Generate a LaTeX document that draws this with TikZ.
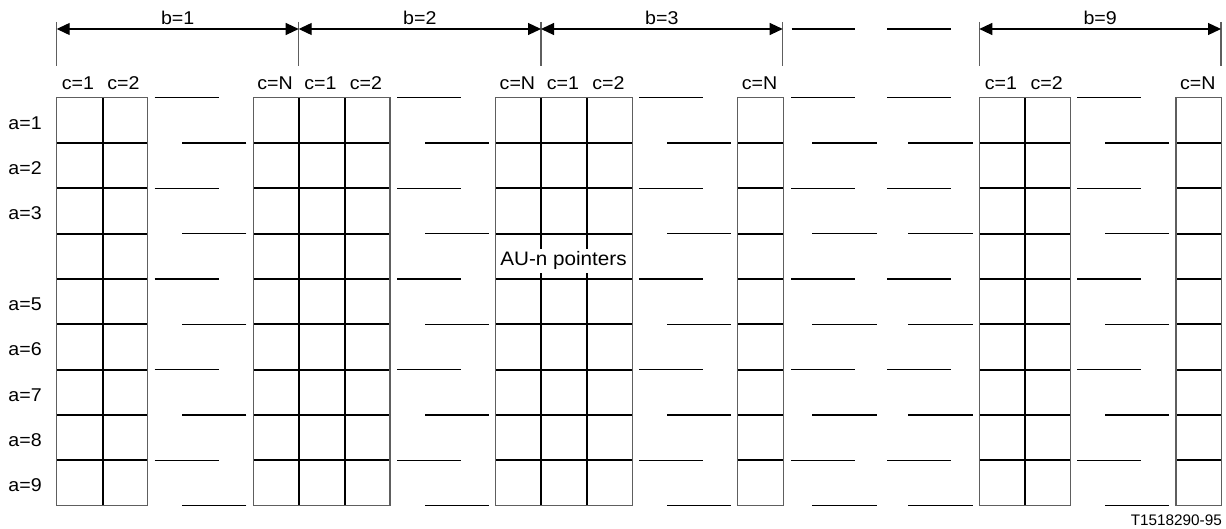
\documentclass[tikz,border=0pt]{standalone}
\usepackage{fontspec}
\setmainfont{Liberation Sans}[FakeStretch=1.06]
\newfontfamily\plainsans{Liberation Sans}
\usetikzlibrary{arrows.meta}
\definecolor{rim}{HTML}{5E5E5E}
\tikzset{cell/.style={draw=black,line width=2.1pt},frame/.style={draw=rim,line width=1.4pt},gap/.style={draw=black,line width=1.1pt},tick/.style={draw=rim,line width=1.4pt},span/.style={draw=black,line width=1.2pt,{Triangle[length=13pt,width=12pt]}-{Triangle[length=13pt,width=12pt]}},lbl/.style={inner sep=0pt,font=\fontsize{18.5}{21}\selectfont}}
\def\rh{45.33}
\def\ytop{97.7}
\def\ybot{505.7}

\begin{document}
\begin{tikzpicture}[x=1pt,y=-1pt]
\useasboundingbox (0,0) rectangle (1226,529);
% grid blocks: left/right edges
\foreach \l/\r in {56.7/147.7,253.3/390,495.7/632.3,737.7/783.3,979.3/1070.3,1176/1221.7}
  \foreach \k in {1,...,8}\draw[cell] (\l,\ytop+\k*\rh)--(\r,\ytop+\k*\rh);
\foreach \x in {102.7,298.7,344.7,541,586.7,1025}\draw[cell] (\x,\ytop)--(\x,\ybot);
\foreach \l/\r in {56.7/147.7,253.3/390,495.7/632.3,737.7/783.3,979.3/1070.3,1176/1221.7}
  \draw[frame] (\l,\ytop) rectangle (\r,\ybot);
% broken lines between blocks
\foreach \e/\s in {147.7/253.3,390/495.7,632.3/737.7,1070.3/1176}{
  \foreach \k in {0,2,...,8}\draw[gap] (\e+7,\ytop+\k*\rh)--++(64,0);
  \foreach \k in {1,3,...,9}\draw[gap] (\s-7,\ytop+\k*\rh)--++(-64,0);}
\foreach \k in {0,2,...,8}{\draw[gap] (791,\ytop+\k*\rh)--++(64,0);\draw[gap] (887,\ytop+\k*\rh)--++(64,0);}
\foreach \k in {1,3,...,9}{\draw[gap] (812.3,\ytop+\k*\rh)--++(64.4,0);\draw[gap] (908.3,\ytop+\k*\rh)--++(64.4,0);}
\draw[gap] (791.7,29)--(855,29);
\draw[gap] (887.3,29)--(950.7,29);
% dimension marks
\foreach \i/\x in {0/56.7,1/298.7,2/541,3/782.7,4/979.3,5/1221}{
  \coordinate (k\i) at (\x,29);
  \draw[tick] (\x,22)--(\x,66);}
\draw[span] (k0)--node[lbl,yshift=10.7pt] (b1) {b=1} (k1);
\draw[span] (k1)--node[lbl,yshift=10.7pt] (b2) {b=2} (k2);
\draw[span] (k2)--node[lbl,yshift=10.7pt] (b3) {b=3} (k3);
\draw[span] (k4)--node[lbl,yshift=10.7pt] (b9) {b=9} (k5);
% labels
\foreach \x/\t [count=\i] in {78/c=1,123.5/c=2,275/c=N,320.5/c=1,366/c=2,517.4/c=N,562.9/c=1,608.4/c=2,759.5/c=N,1001/c=1,1046.6/c=2,1197.8/c=N}
  \node[lbl] (c\i) at (\x,83) {\t};
\foreach \k in {1,2,3,5,6,7,8,9}
  \node[lbl,anchor=west] (a\k) at (8.3,\ytop+\k*\rh-0.5*\rh+2.5) {a=\k};
\node[lbl,anchor=base,fill=white,inner xsep=1pt,inner ysep=3pt,font=\fontsize{19.5}{22}\selectfont] (au) at (563.5,265.7) {AU-n pointers};
\node[lbl,anchor=base east,font=\plainsans\fontsize{15.3}{18}\selectfont] (ref) at (1222,525) {T1518290-95};
\end{tikzpicture}
\end{document}
